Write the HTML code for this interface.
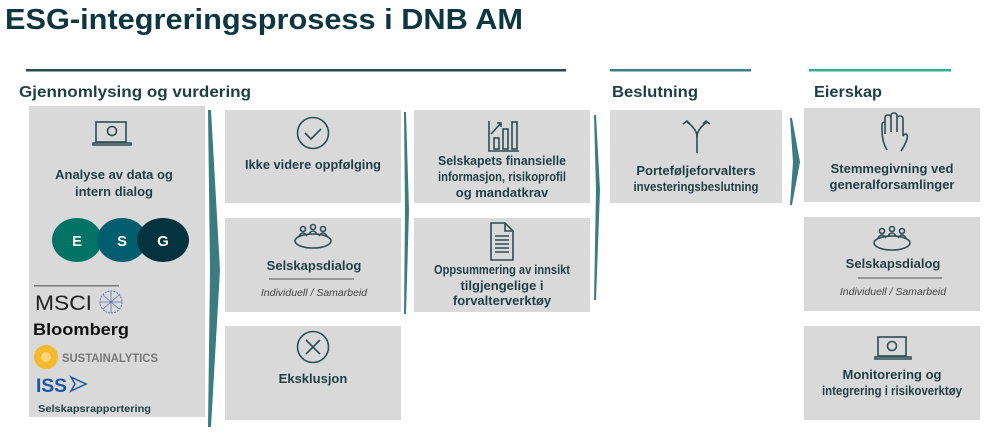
<!DOCTYPE html>
<html><head><meta charset="utf-8"><style>
html,body{margin:0;padding:0;background:#fff;width:991px;height:434px;overflow:hidden}
svg text{font-family:"Liberation Sans",Arial,sans-serif}
</style></head><body>
<svg width="991" height="434" viewBox="0 0 991 434" xmlns="http://www.w3.org/2000/svg">
<text x="5" y="29" font-size="29" font-weight="bold" fill="#0d3740" textLength="518" lengthAdjust="spacingAndGlyphs">ESG-integreringsprosess i DNB AM</text>
<rect x="26" y="69" width="540" height="2.5" fill="#2b4a4e"/>
<rect x="610" y="69" width="141" height="2.5" fill="#3e8185"/>
<rect x="809" y="69" width="142" height="2.5" fill="#2cb08b"/>
<g font-size="16" font-weight="bold" fill="#1e3f44">
<text x="19" y="97" textLength="232" lengthAdjust="spacingAndGlyphs">Gjennomlysing og vurdering</text>
<text x="612" y="97" textLength="86" lengthAdjust="spacingAndGlyphs">Beslutning</text>
<text x="814" y="97" textLength="68" lengthAdjust="spacingAndGlyphs">Eierskap</text>
</g>
<g fill="#d9d9d9">
<rect x="29" y="106" width="176" height="311"/>
<rect x="225" y="110" width="176" height="93"/>
<rect x="225" y="218" width="176" height="94"/>
<rect x="225" y="326" width="176" height="94"/>
<rect x="414" y="110" width="176" height="93"/>
<rect x="414" y="218" width="176" height="94"/>
<rect x="610" y="110" width="172" height="93"/>
<rect x="804" y="108" width="176" height="94"/>
<rect x="804" y="217" width="176" height="94"/>
<rect x="804" y="326" width="176" height="94"/>
</g>
<g fill="#3b7c80">
<polygon points="208,110 211,110 220,270 211,427 208,427 210,270"/>
<polygon points="404,112 406,112 409,210 406,314 404,314 405,210"/>
<polygon points="594,115 596,115 600,190 596,300 594,300 596,190"/>
<polygon points="790,118 792,118 800,162 792,205 790,205 793,162"/>
</g>
<!-- icons -->
<g fill="none" stroke="#2b4f53" stroke-width="1.6">
<!-- laptop left -->
<rect x="96" y="122" width="30" height="20"/><circle cx="112" cy="131" r="4.5"/><path d="M93,143 h38 v2 h-38z"/>
<!-- check -->
<circle cx="313" cy="133" r="15.5"/><path d="M305,133 l6,6 l10,-10"/>
<!-- meeting col2 -->
<ellipse cx="313" cy="241" rx="18" ry="7"/><circle cx="303" cy="229" r="2.5"/><circle cx="313" cy="227" r="2.5"/><circle cx="323" cy="229" r="2.5"/><path d="M299,236 q4,-6 8,0 M309,234 q4,-6 8,0 M319,236 q4,-6 8,0"/>
<!-- X -->
<circle cx="313" cy="347" r="15.5"/><path d="M306,340 l14,14 M320,340 l-14,14"/>
<!-- chart -->
<path d="M489,121 v30 h30"/><rect x="494" y="138" width="5" height="11"/><rect x="503" y="129" width="5" height="20"/><rect x="512" y="122" width="5" height="27"/><path d="M491,134 l10,-11 m-4,0 h4 v4"/>
<!-- doc -->
<path d="M491,223 h14 l8,8 v29 h-22z M505,223 v8 h8 M495,236 h14 M495,240 h14 M495,244 h14 M495,248 h14 M495,252 h14"/>
<!-- fork -->
<path d="M697,153 v-16 q0,-8 -10,-15 M697,137 q0,-8 10,-15 M683,124 l4,-3 l3,3 M710,124 l-4,-3 l-3,3"/>
<!-- hand -->
<path d="M887,150 q-5,-8 -5,-20 v-5 q0,-3 3,-3 v12 v-16 q0,-3 3,-3 q3,0 3,3 v14 v-16 q0,-3 3,-3 q3,0 3,3 v16 v-13 q0,-3 3,-3 q3,0 3,3 v17 q1,-2 3,-2 q2,1 1,5 q-2,6 -6,12"/>
<!-- meeting col5 -->
<ellipse cx="892" cy="243" rx="18" ry="7"/><circle cx="882" cy="231" r="2.5"/><circle cx="892" cy="229" r="2.5"/><circle cx="902" cy="231" r="2.5"/><path d="M878,238 q4,-6 8,0 M888,236 q4,-6 8,0 M898,238 q4,-6 8,0"/>
<!-- laptop col5 -->
<rect x="878" y="337" width="28" height="19"/><circle cx="892" cy="346" r="4.5"/><path d="M875,357 h36 v2 h-36z"/>
<!-- underlines -->
<path d="M269,279 h85 M858,278 h84" stroke="#555" stroke-width="1"/>
</g>
<!-- texts -->
<g font-size="13" font-weight="bold" fill="#1e3f44" text-anchor="middle">
<text x="114" y="179">Analyse av data og</text><text x="114" y="196">intern dialog</text>
<text x="313" y="169" textLength="136" lengthAdjust="spacingAndGlyphs">Ikke videre oppfølging</text>
<text x="314" y="270">Selskapsdialog</text>
<text x="313" y="383">Eksklusjon</text>
<text x="502" y="165" textLength="128" lengthAdjust="spacingAndGlyphs">Selskapets finansielle</text>
<text x="502" y="181" textLength="128" lengthAdjust="spacingAndGlyphs">informasjon, risikoprofil</text>
<text x="502" y="197">og mandatkrav</text>
<text x="502" y="274" textLength="136" lengthAdjust="spacingAndGlyphs">Oppsummering av innsikt</text>
<text x="502" y="290">tilgjengelige i</text>
<text x="502" y="305">forvalterverktøy</text>
<text x="696" y="175">Porteføljeforvalters</text>
<text x="696" y="191" textLength="125" lengthAdjust="spacingAndGlyphs">investeringsbeslutning</text>
<text x="892" y="173">Stemmegivning ved</text>
<text x="892" y="189">generalforsamlinger</text>
<text x="893" y="268">Selskapsdialog</text>
<text x="892" y="379">Monitorering og</text>
<text x="892" y="395" textLength="140" lengthAdjust="spacingAndGlyphs">integrering i risikoverktøy</text>
</g>
<g font-size="10.5" font-style="italic" fill="#444" text-anchor="middle">
<text x="314" y="296">Individuell / Samarbeid</text>
<text x="893" y="295">Individuell / Samarbeid</text>
</g>
<!-- ESG -->
<ellipse cx="77" cy="240" rx="25" ry="22" fill="#007367"/>
<ellipse cx="122" cy="240" rx="25" ry="22" fill="#005e6e"/>
<ellipse cx="163" cy="240" rx="26" ry="22" fill="#03333f"/>
<g font-size="15" font-weight="bold" fill="#fff" text-anchor="middle">
<text x="77" y="246">E</text><text x="122" y="246">S</text><text x="163" y="246">G</text></g>
<!-- logos -->
<rect x="34" y="285" width="85" height="1.5" fill="#777"/>
<text x="35" y="310" font-size="21" fill="#222" textLength="57" lengthAdjust="spacingAndGlyphs">MSCI</text>
<circle cx="111" cy="302" r="11" fill="none" stroke="#6b6fbf" stroke-width="1" stroke-dasharray="2,1"/>
<path d="M100,302 h22 M111,291 v22 M103,295 l16,14 M119,295 l-16,14" stroke="#6b6fbf" stroke-width="0.8"/>
<text x="33" y="335" font-size="17" font-weight="bold" fill="#111" textLength="96" lengthAdjust="spacingAndGlyphs">Bloomberg</text>
<circle cx="46" cy="357" r="12" fill="#f5b92e"/><circle cx="46" cy="357" r="5" fill="#fbd57a"/>
<text x="62" y="362" font-size="12" font-weight="bold" fill="#777" textLength="96" lengthAdjust="spacingAndGlyphs">SUSTAINALYTICS</text>
<text x="36" y="392" font-size="19" font-weight="bold" fill="#1a56a8" textLength="31" lengthAdjust="spacingAndGlyphs">ISS</text>
<path d="M71,377 l15,7 l-15,7 l4,-7z" fill="none" stroke="#1a56a8" stroke-width="1.5"/>
<text x="38" y="412" font-size="10.5" font-weight="bold" fill="#1e3f44" textLength="113" lengthAdjust="spacingAndGlyphs">Selskapsrapportering</text>
</svg>
</body></html>
